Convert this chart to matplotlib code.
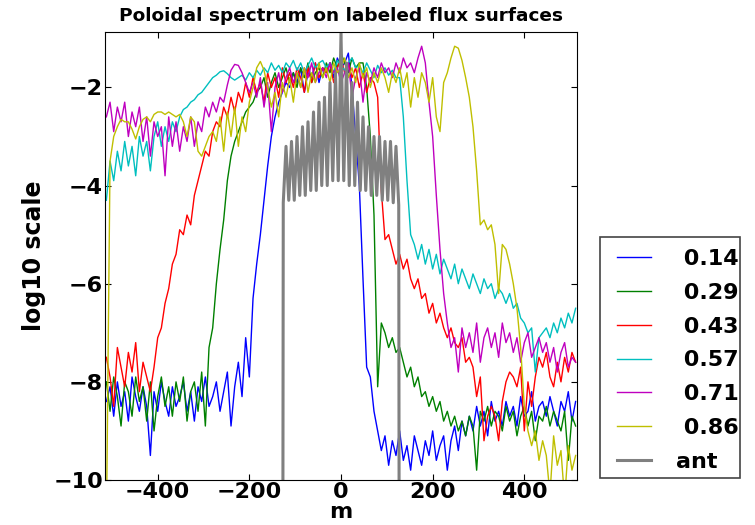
import matplotlib
matplotlib.use("Agg")
import matplotlib.pyplot as plt
from matplotlib.patches import Rectangle
import numpy as np

# poloidal mode numbers, every 8th mode
m = np.arange(-512, 513, 8)

blue_014 = [
    -8.4, -8.1, -8.7, -8.0, -8.5, -8.2, -8.8, -7.9, -8.3, -8.6,
    -8.1, -8.5, -9.5, -8.2, -8.6, -8.0, -8.4, -8.7, -8.1, -8.5,
    -8.3, -8.0, -8.6, -8.2, -8.8, -8.1, -8.4, -7.9, -8.5, -8.3,
    -8.0, -8.6, -8.2, -7.8, -8.9, -8.1, -7.6, -8.3, -7.1, -7.9,
    -6.3, -5.6, -5.0, -4.3, -3.6, -3.0, -2.6, -2.3, -2.1, -1.9,
    -2.0, -1.7, -1.9, -1.6, -2.1, -1.7, -1.8, -1.5, -1.9, -1.6,
    -1.7, -1.5, -1.8, -1.4, -1.6, -1.5, -1.3, -2.0, -3.0, -4.0,
    -5.9, -7.7, -7.9, -8.6, -9.0, -9.4, -9.1, -9.7, -9.2, -9.5,
    -9.0, -9.6, -9.3, -9.8, -9.1, -9.4, -9.7, -9.2, -9.5, -9.0,
    -9.6, -9.3, -9.1, -9.8, -9.2, -8.9, -9.4, -8.8, -9.1, -8.7,
    -9.0, -8.5, -8.9, -8.6, -9.1, -8.4, -8.8, -8.6, -8.9, -8.4,
    -8.7, -8.5, -8.9, -8.3, -8.7, -8.6, -8.2, -8.8, -8.5, -8.4,
    -8.7, -8.3, -8.6, -8.9, -8.4, -8.6, -8.2, -8.8, -8.4,
]
green_029 = [
    -8.0, -8.6, -7.9, -8.3, -8.9, -8.0, -8.2, -8.7, -7.9, -8.4,
    -8.1, -8.8, -8.0, -9.0, -8.3, -7.9, -8.5, -8.1, -8.7, -8.0,
    -8.4, -7.9, -8.8, -8.2, -8.0, -8.6, -7.8, -8.9, -7.3, -6.9,
    -6.0, -5.3, -4.7, -3.9, -3.4, -3.1, -2.9, -2.7, -2.5, -2.4,
    -2.3, -2.1, -2.0, -1.8, -2.2, -1.9, -1.7, -2.0, -1.8, -1.6,
    -1.9, -1.7, -2.0, -1.6, -1.8, -1.5, -1.9, -1.7, -1.6, -1.8,
    -1.5, -1.7, -1.4, -1.6, -1.3, -1.5, -1.7, -1.4, -1.6, -1.5,
    -1.5, -2.0, -3.0, -4.6, -8.1, -6.8, -7.0, -7.3, -7.1, -7.4,
    -7.3, -7.6, -7.9, -7.7, -8.1, -7.9, -8.3, -8.2, -8.5, -8.3,
    -8.6, -8.4, -8.8, -8.6, -8.9, -8.7, -9.0, -8.8, -9.1, -8.7,
    -8.9, -9.8, -8.6, -8.8, -8.5, -8.9, -8.6, -8.7, -9.0, -8.5,
    -8.8, -8.6, -9.1, -8.7, -8.5, -8.9, -8.6, -9.2, -8.7, -8.8,
    -8.5, -8.9, -8.6, -8.8, -9.0, -8.6, -9.6, -8.7, -8.9,
]
red_043 = [
    -7.5, -7.9, -8.5, -7.3, -7.7, -8.1, -7.4, -7.8, -7.2, -8.2,
    -7.6, -7.9, -8.2, -7.7, -7.1, -6.9, -6.4, -6.1, -5.6, -5.4,
    -4.9, -5.0, -4.6, -4.8, -4.2, -3.9, -3.6, -3.3, -3.4, -2.9,
    -2.7, -2.8, -2.4, -2.6, -2.2, -2.5, -2.1, -2.3, -1.9, -2.2,
    -1.8, -2.1, -1.9, -2.3, -1.7, -2.0, -1.8, -2.2, -1.6, -1.9,
    -1.7, -2.0, -1.6, -1.8, -2.1, -1.6, -1.9, -1.5, -1.8, -1.6,
    -1.7, -1.5, -1.9, -1.6, -1.4, -1.7, -1.5, -1.8, -1.6, -2.0,
    -1.7, -2.1, -1.8, -1.9, -2.2, -4.1, -5.1, -5.0, -5.3, -5.6,
    -5.4, -5.7, -5.5, -5.9, -6.1, -5.9, -6.3, -6.2, -6.6, -6.4,
    -6.8, -6.6, -6.9, -7.1, -6.9, -7.2, -7.3, -7.1, -7.6, -7.5,
    -7.7, -8.3, -7.9, -9.2, -8.7, -8.5, -8.7, -9.2, -8.4, -8.0,
    -7.8, -7.9, -8.1, -7.7, -9.0, -8.0, -8.5, -7.9, -7.5, -7.7,
    -7.4, -7.9, -8.1, -7.6, -8.0, -7.5, -7.8, -7.4, -7.6,
]
cyan_057 = [
    -4.3, -3.5, -3.9, -3.3, -3.7, -3.1, -3.6, -3.2, -3.8, -3.0,
    -3.4, -3.1, -3.7, -3.0, -2.7, -3.2, -2.8, -3.1, -2.7, -2.9,
    -2.6, -2.45, -2.4, -2.3, -2.25, -2.15, -2.1, -2.0, -1.9, -1.8,
    -1.75, -1.68, -1.66, -1.72, -1.8, -1.85, -1.8, -1.75, -1.85, -1.7,
    -1.8, -1.65, -1.75, -1.6, -1.7, -1.5, -1.65, -1.55, -1.7, -1.5,
    -1.6, -1.45, -1.65, -1.5, -1.7, -1.55, -1.4, -1.6, -1.5, -1.45,
    -1.6, -1.5, -1.7, -1.45, -1.55, -1.65, -1.5, -1.4, -1.6, -1.55,
    -1.7, -1.5, -1.65, -1.8, -1.55, -1.7, -1.6, -1.75, -1.65, -1.8,
    -1.8, -2.6, -3.9, -5.0, -5.2, -5.5, -5.2, -5.6, -5.3, -5.7,
    -5.4, -5.8, -5.5, -5.7, -5.9, -5.6, -6.0, -5.7, -5.9, -6.1,
    -5.8, -6.0, -6.2, -5.9, -6.1, -6.0, -6.3, -6.1, -6.2, -6.4,
    -6.2, -6.5, -6.4, -6.7, -6.8, -7.0, -6.9, -7.8, -7.1, -7.0,
    -6.9, -7.1, -6.8, -7.0, -6.7, -6.9, -6.6, -6.8, -6.5,
]
magenta_071 = [
    -2.6, -2.3, -2.9, -2.4, -2.7, -2.3, -3.0, -2.5, -2.8, -2.4,
    -3.1, -2.6, -3.4, -2.7, -3.0, -2.8, -3.8, -2.6, -3.2, -2.7,
    -3.3, -2.8, -3.1, -2.6, -3.2, -2.7, -2.9, -2.4, -2.6, -2.3,
    -2.5, -2.2, -2.3, -1.95, -1.65, -1.53, -1.55, -1.7, -1.9, -2.1,
    -1.9, -2.2, -1.8, -2.4, -1.9, -2.9, -2.0, -1.7, -2.1, -1.8,
    -1.6, -1.9, -1.7, -2.0, -1.6, -1.8, -1.5, -1.9, -1.7, -1.6,
    -1.8, -1.5, -1.7, -1.6, -1.9, -1.7, -1.5, -2.2, -1.8, -1.6,
    -2.3, -1.7, -1.9, -1.6, -1.8, -1.5, -1.7, -1.6, -1.8, -1.5,
    -1.7, -1.4, -1.6, -1.5, -1.7, -1.4, -1.16, -1.5, -2.3, -3.0,
    -4.2, -5.3, -6.2, -6.8, -7.3, -7.1, -7.8, -6.9, -7.3, -7.0,
    -7.4, -6.8, -7.6, -7.1, -6.9, -7.3, -7.0, -7.5, -6.8, -7.2,
    -7.0, -7.4, -7.1, -7.6, -7.2, -7.0, -7.5, -7.3, -7.1, -7.4,
    -7.2, -7.6, -7.3, -7.8, -7.4, -7.2, -7.7, -7.5, -7.6,
]
yellow_086 = [
    -11.0, -3.5, -3.0, -2.8, -2.65, -2.7, -2.7, -2.85, -3.05, -2.8,
    -2.65, -2.6, -2.7, -2.55, -2.5, -2.5, -2.55, -2.5, -2.55, -2.6,
    -2.55, -2.7, -3.0, -2.6, -2.7, -3.3, -3.4, -3.2, -3.0, -2.9,
    -3.1, -2.6, -3.3, -2.5, -3.0, -2.4, -3.2, -2.6, -2.9, -2.3,
    -2.0, -1.6, -1.47, -1.65, -2.0, -2.4, -2.1, -2.6, -1.9, -2.2,
    -1.8, -2.3, -1.7, -2.0, -1.6, -2.1, -1.7, -1.9, -1.5, -1.8,
    -1.6, -1.9, -1.5, -1.7, -1.6, -1.4, -1.8, -1.6, -1.9, -1.5,
    -1.8, -1.6, -2.0, -1.7, -1.9, -1.6, -1.8, -2.1, -1.7, -1.9,
    -1.6, -2.0, -1.7, -2.4, -1.8, -2.2, -1.7, -1.9, -2.3, -1.8,
    -2.6, -2.9, -1.9, -1.7, -1.4, -1.16, -1.2, -1.45, -1.8, -2.2,
    -2.8, -3.7, -4.8, -4.7, -4.9, -4.8, -5.2, -6.2, -5.2, -5.3,
    -5.6, -6.0, -6.5, -7.3, -8.5, -9.0, -9.3, -9.0, -9.6, -9.2,
    -9.5, -10.3, -9.1, -9.7, -9.4, -10.4, -9.3, -9.8, -9.5,
]

# antenna spectrum, peaks and troughs of the comb
ant_m = [
    -128, -126, -120, -114, -108, -102, -96, -90, -84, -78, -72, -66,
    -60, -54, -48, -42, -36, -30, -24, -18, -12, -6, 0, 6, 12, 18, 24,
    30, 36, 42, 48, 54, 60, 66, 72, 78, 84, 90, 96, 102, 108, 114, 120,
    126, 128,
]
ant_val = [
    -20.0, -4.35, -3.2, -4.3, -3.1, -4.3, -3.0, -4.2, -2.8, -4.2, -2.7, -4.1,
    -2.5, -4.1, -2.3, -4.0, -2.2, -4.0, -1.9, -3.9, -1.7, -3.9, -0.9, -3.9,
    -1.5, -4.0, -1.9, -4.0, -2.3, -4.1, -2.6, -4.1, -2.8, -4.2, -3.0, -4.2,
    -3.0, -4.3, -3.1, -4.3, -3.1, -4.35, -3.2, -4.4, -20.0,
]

labels = [" 0.14", " 0.29", " 0.43", " 0.57", " 0.71", " 0.86", "ant"]
colors = ["b", "g", "r", "c", "m", "y", "gray"]

plt.rcParams["font.family"] = "DejaVu Sans"
plt.rcParams["font.weight"] = "bold"

fig = plt.figure(figsize=(7.55, 5.25), dpi=100)
ax = fig.add_axes([105 / 755, 45 / 525, 472 / 755, 448 / 525])

series = [blue_014, green_029, red_043, cyan_057, magenta_071, yellow_086]
for vals, lab, col in zip(series, labels, colors):
    ax.plot(m, vals, "-", color=col, lw=1.0, label=lab)
ax.plot(ant_m, ant_val, "-", color=colors[-1], lw=2.2, label=labels[-1])

ax.set_xlim(-515, 515)
ax.set_ylim(-10, -0.87)
ax.set_xticks([-400, -200, 0, 200, 400])
ax.set_yticks([-10, -8, -6, -4, -2])
ax.tick_params(direction="in", top=True, right=True, labelsize=16, length=4, pad=1.5)
for lbl in ax.get_xticklabels() + ax.get_yticklabels():
    lbl.set_fontweight("bold")

ax.set_title("Poloidal spectrum on labeled flux surfaces", fontsize=13.3,
             fontweight="bold", pad=8)
ax.set_xlabel("m", fontsize=16, fontweight="bold", labelpad=0)
ax.set_ylabel("log10 scale", fontsize=17, fontweight="bold", labelpad=5)

leg = ax.legend(
    loc="upper left",
    bbox_to_anchor=(617 / 755, 1 - 249 / 525),
    bbox_transform=fig.transFigure,
    frameon=False,
    borderpad=0,
    borderaxespad=0,
    handlelength=1.55,
    handletextpad=1.1,
    labelspacing=0.62,
    prop={"size": 16, "weight": "bold"},
)
fig.patches.append(
    Rectangle((600 / 755, 1 - 478 / 525), 140 / 755, 241 / 525,
              transform=fig.transFigure, fill=False, edgecolor="#444444", lw=1.2)
)

fig.savefig("out.png", dpi=100)
